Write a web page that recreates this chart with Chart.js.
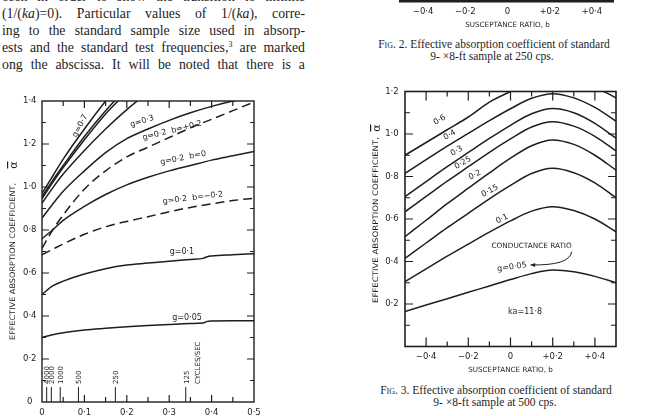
<!DOCTYPE html>
<html>
<head>
<meta charset="utf-8">
<script src="https://cdn.jsdelivr.net/npm/chart.js@4.4.1/dist/chart.umd.min.js"></script>
<style>
  html, body { margin: 0; padding: 0; background: #fff; }
  body { width: 649px; height: 416px; position: relative; overflow: hidden;
         font-family: 'Liberation Serif', 'DejaVu Serif', serif; color: #1e1e1e; }
  canvas { position: absolute; }
  .body { position: absolute; left: 2px; top: -10.7px; width: 303px; font-size: 13.8px; line-height: 16.9px; }
  .body div { height: 16.9px; text-align: justify; text-align-last: justify; }
  .body sup { font-size: 8px; line-height: 0; vertical-align: 5px; }
  .cap { position: absolute; width: 300px; text-align: center; font-size: 11.5px; line-height: 12px; white-space: nowrap; }
  .sc { font-variant: small-caps; }
</style>
</head>
<body>
<div class="body">
  <div>osen in order to show the transition to infinite</div>
  <div>(1/(<i>ka</i>)=0). Particular values of 1/(<i>ka</i>), corre-</div>
  <div>ing to the standard sample size used in absorp-</div>
  <div>ests and the standard test frequencies,<sup>3</sup> are marked</div>
  <div>ong the abscissa. It will be noted that there is a</div>
</div>

<canvas id="fig2" width="309" height="100" style="left:340px; top:-70px; width:309px; height:100px"></canvas>
<div class="cap" style="left:344px; top:38px"><span class="sc">Fig.</span> 2. Effective absorption coefficient of standard</div>
<div class="cap" style="left:342px; top:50px">9- ×8-ft sample at 250 cps.</div>

<canvas id="fig1" width="300" height="326" style="left:0px; top:90px; width:300px; height:326px"></canvas>
<canvas id="fig3" width="309" height="300" style="left:340px; top:80px; width:309px; height:300px"></canvas>

<div class="cap" style="left:346px; top:384px"><span class="sc">Fig.</span> 3. Effective absorption coefficient of standard</div>
<div class="cap" style="left:345px; top:396px">9- ×8-ft sample at 500 cps.</div>

<script>
// ---- Fig. 1: effective absorption vs 1/(ka) ----
const invKa = [0, 0.025, 0.05, 0.1, 0.15, 0.2, 0.25, 0.3, 0.35, 0.4, 0.45, 0.5];
const invKaFine = [0, 0.025, 0.05, 0.1, 0.15, 0.2, 0.25, 0.3, 0.35, 0.38, 0.39, 0.4, 0.45, 0.5];
const alphaHigh1 = [0.97, 1.05, 1.13, 1.27, 1.40, 1.52];
const alphaHigh2 = [0.955, 1.03, 1.10, 1.235, 1.355, 1.46];
const alphaHigh3 = [0.945, 1.02, 1.09, 1.22, 1.34, 1.44];
const alphaHigh4 = [0.925, 0.995, 1.06, 1.17, 1.27, 1.36, 1.44];
const alphaG03 = [0.855, 0.92, 0.98, 1.075, 1.16, 1.225, 1.27, 1.31, 1.345, 1.375, 1.40, 1.42];
const alphaG02Bplus = [0.715, 0.80, 0.87, 0.99, 1.075, 1.14, 1.185, 1.23, 1.275, 1.315, 1.355, 1.395];
const alphaG02B0 = [0.76, 0.80, 0.845, 0.91, 0.965, 1.01, 1.045, 1.075, 1.10, 1.125, 1.145, 1.165];
const alphaG02Bminus = [0.685, 0.71, 0.735, 0.78, 0.815, 0.84, 0.862, 0.885, 0.905, 0.922, 0.937, 0.948];
const alphaG01 = [0.50, 0.54, 0.562, 0.595, 0.62, 0.637, 0.646, 0.655, 0.663, 0.668, 0.676, 0.679, 0.685, 0.69];
const alphaG005 = [0.30, 0.313, 0.322, 0.335, 0.343, 0.35, 0.356, 0.361, 0.365, 0.367, 0.375, 0.377, 0.378, 0.378];
const fig1XTicks = [0, 0.1, 0.2, 0.3, 0.4, 0.5];
const fig1YTicks = [0, 0.2, 0.4, 0.6, 0.8, 1.0, 1.2, 1.4];
const freqLabels = ['4000', '2000', '1000', '500', '250', '125'];
const freqInvKa = [0.011, 0.022, 0.043, 0.086, 0.173, 0.339];

// ---- Fig. 3: effective absorption vs susceptance ratio ----
const susceptance = [-0.5, -0.4, -0.3, -0.2, -0.1, 0, 0.1, 0.2, 0.3, 0.4, 0.5];
const g060 = [0.90, 0.96, 1.02, 1.08, 1.15, 1.20, 1.245, 1.265, 1.25, 1.22, 1.17];
const g040 = [0.815, 0.879, 0.943, 1.003, 1.063, 1.119, 1.168, 1.19, 1.17, 1.125, 1.06];
const g030 = [0.705, 0.776, 0.846, 0.913, 0.979, 1.041, 1.095, 1.12, 1.10, 1.05, 0.98];
const g025 = [0.634, 0.706, 0.778, 0.846, 0.914, 0.977, 1.033, 1.058, 1.037, 0.989, 0.92];
const g020 = [0.517, 0.594, 0.672, 0.745, 0.817, 0.886, 0.945, 0.972, 0.951, 0.90, 0.83];
const g015 = [0.415, 0.487, 0.559, 0.627, 0.695, 0.758, 0.814, 0.839, 0.818, 0.77, 0.70];
const g010 = [0.305, 0.365, 0.425, 0.482, 0.538, 0.591, 0.637, 0.658, 0.64, 0.60, 0.54];
const g005 = [0.165, 0.195, 0.225, 0.255, 0.285, 0.315, 0.343, 0.36, 0.352, 0.33, 0.30];
const fig3XTicks = [-0.4, -0.2, 0, 0.2, 0.4];
const fig3YTicks = [0.2, 0.4, 0.6, 0.8, 1.0, 1.2];
const fig2XTicks = [-0.4, -0.2, 0, 0.2, 0.4];

const ink = '#1e1e1e';
const sans = "'DejaVu Sans', 'Liberation Sans', sans-serif";
const tickFont = { family: sans, size: 8.5 };

function dot(v, signed) {
    if (Math.abs(v) < 1e-9) return '0';
    const s = Math.abs(v).toFixed(1).replace('.', '·');
    if (v < 0) return '−' + s;
    return signed ? '+' + s : s;
}

function pts(xs, ys) {
    return ys.map((y, i) => ({ x: xs[i], y: y }));
}

function curve(xs, ys, dashed) {
    return {
        data: pts(xs, ys),
        borderColor: ink,
        borderWidth: 1.5,
        borderDash: dashed ? [9, 5] : [],
        pointRadius: 0,
        cubicInterpolationMode: 'monotone',
        fill: false,
    };
}

// frame, inside ticks, labels drawn on the paper
const decor = {
    id: 'decor',
    afterDraw(chart, args, o) {
        const { ctx, chartArea: a } = chart;
        const xs = chart.scales.x, ys = chart.scales.y;
        ctx.save();
        ctx.strokeStyle = ink;
        ctx.fillStyle = ink;

        if (o.frame) {
            ctx.lineWidth = o.frame;
            ctx.strokeRect(a.left, a.top, a.right - a.left, a.bottom - a.top);
        }
        if (o.base) {
            ctx.lineWidth = o.base;
            ctx.beginPath();
            ctx.moveTo(a.left - 3, a.bottom);
            ctx.lineTo(a.right + 1, a.bottom);
            ctx.stroke();
        }

        const marks = (scale, minor, major, lens) => {
            const n = Math.round((scale.max - scale.min) / minor);
            const out = [];
            for (let i = 1; i < n; i++) {
                const v = scale.min + i * minor;
                const q = v / major;
                out.push([scale.getPixelForValue(v), Math.abs(q - Math.round(q)) < 1e-6 ? lens[0] : lens[1]]);
            }
            return out;
        };
        ctx.lineWidth = 1.2;
        if (o.xTicks) {
            ctx.beginPath();
            for (const [p, l] of marks(xs, o.xTicks[0], o.xTicks[1], o.xTicks[2])) {
                ctx.moveTo(p, a.bottom); ctx.lineTo(p, a.bottom - l);
                ctx.moveTo(p, a.top); ctx.lineTo(p, a.top + l);
            }
            ctx.stroke();
        }
        if (o.yTicks) {
            ctx.beginPath();
            for (const [p, l] of marks(ys, o.yTicks[0], o.yTicks[1], o.yTicks[2])) {
                ctx.moveTo(a.left, p); ctx.lineTo(a.left + l, p);
                ctx.moveTo(a.right, p); ctx.lineTo(a.right - l, p);
            }
            ctx.stroke();
        }

        // frequency marks along the abscissa
        if (o.freq) {
            const f = o.freq;
            ctx.lineWidth = 1;
            ctx.beginPath();
            f.x.forEach(v => {
                const p = xs.getPixelForValue(v);
                ctx.moveTo(p, ys.getPixelForValue(0));
                ctx.lineTo(p, ys.getPixelForValue(f.top));
            });
            ctx.stroke();
            ctx.font = '7px ' + sans;
            ctx.textAlign = 'left';
            ctx.textBaseline = 'middle';
            const label = (t, v) => {
                ctx.save();
                ctx.translate(xs.getPixelForValue(v) + 1, ys.getPixelForValue(f.label));
                ctx.rotate(-Math.PI / 2);
                ctx.fillText(t, 0, 0);
                ctx.restore();
            };
            f.labels.forEach((t, i) => label(t, f.x[i]));
            label(f.unit, f.unitX);
        }

        // curve labels
        for (const n of o.notes || []) {
            ctx.save();
            ctx.translate(xs.getPixelForValue(n.x), ys.getPixelForValue(n.y));
            ctx.rotate((n.rot || 0) * Math.PI / 180);
            ctx.font = (n.size || 8) + 'px ' + sans;
            ctx.textAlign = 'center';
            ctx.textBaseline = 'middle';
            ctx.fillText(n.t, 0, 0);
            ctx.restore();
        }

        if (o.arrow) {
            const P = p => [xs.getPixelForValue(p[0]), ys.getPixelForValue(p[1])];
            const [x0, y0] = P(o.arrow.from), [cx, cy] = P(o.arrow.ctrl), [x1, y1] = P(o.arrow.to);
            ctx.lineWidth = 1;
            ctx.beginPath();
            ctx.moveTo(x0, y0);
            ctx.quadraticCurveTo(cx, cy, x1, y1);
            ctx.stroke();
            const ang = Math.atan2(y1 - cy, x1 - cx);
            ctx.beginPath();
            ctx.moveTo(x1, y1);
            ctx.lineTo(x1 - 5 * Math.cos(ang - 0.4), y1 - 5 * Math.sin(ang - 0.4));
            ctx.lineTo(x1 - 5 * Math.cos(ang + 0.4), y1 - 5 * Math.sin(ang + 0.4));
            ctx.closePath();
            ctx.fill();
        }

        // rotated ordinate title with alpha-bar
        if (o.ytitle) {
            const t = o.ytitle;
            ctx.save();
            ctx.translate(a.left + t.dx, a.top + t.from);
            ctx.rotate(-Math.PI / 2);
            ctx.font = '7.5px ' + sans;
            ctx.textAlign = 'left';
            ctx.textBaseline = 'middle';
            const w = ctx.measureText(t.text).width;
            ctx.scale((t.from - t.to) / w, 1);
            ctx.fillText(t.text, 0, 0);
            ctx.restore();

            ctx.save();
            ctx.translate(a.left + t.dx, a.top + t.alpha);
            ctx.rotate(-Math.PI / 2);
            ctx.font = '11px ' + sans;
            ctx.textAlign = 'center';
            ctx.textBaseline = 'alphabetic';
            ctx.fillText('α', 0, 3.5);
            ctx.fillRect(-3.5, -6, 7, 1.2);
            ctx.restore();
        }
        ctx.restore();
    },
};
Chart.register(decor);

const baseOptions = {
    responsive: false,
    animation: false,
    events: [],
    plugins: { legend: { display: false }, tooltip: { enabled: false } },
};

function xAxis(min, max, ticks, height, padding, signed, titleText, titlePad) {
    return {
        type: 'linear', min: min, max: max,
        afterBuildTicks: s => { s.ticks = ticks.map(v => ({ value: v })); },
        afterFit: s => { s.height = height; },
        grid: { display: false, drawTicks: false },
        border: { display: false },
        ticks: { padding: padding, font: tickFont, color: ink, maxRotation: 0, autoSkip: false,
                 callback: v => dot(v, signed) },
        title: titleText ? { display: true, text: titleText, color: ink,
                             font: { family: sans, size: 7.2 }, padding: { top: 0, bottom: titlePad } }
                         : { display: false },
    };
}

function yAxis(min, max, ticks, width, padding) {
    return {
        type: 'linear', min: min, max: max,
        afterBuildTicks: s => { s.ticks = ticks.map(v => ({ value: v })); },
        afterFit: s => { s.width = width; },
        grid: { display: false, drawTicks: false },
        border: { display: false },
        ticks: { padding: padding, font: tickFont, color: ink, crossAlign: 'center', autoSkip: false,
                 callback: v => dot(v) },
    };
}

// Fig. 1
const fig1 = new Chart(document.getElementById('fig1').getContext('2d'), {
    type: 'line',
    data: {
        datasets: [
            curve(invKa, alphaHigh1),
            curve(invKa, alphaHigh2),
            curve(invKa, alphaHigh3),
            curve(invKa, alphaHigh4),
            curve(invKa, alphaG03),
            curve(invKa, alphaG02Bplus, true),
            curve(invKa, alphaG02B0),
            curve(invKa, alphaG02Bminus, true),
            curve(invKaFine, alphaG01),
            curve(invKaFine, alphaG005),
        ],
    },
    options: {
        ...baseOptions,
        layout: { padding: { left: 0, right: 46, top: 11, bottom: 0 } },
        scales: {
            x: xAxis(0, 0.5, fig1XTicks, 14, 5.5, false),
            y: yAxis(0, 1.4, fig1YTicks, 42, 5.5),
        },
        plugins: {
            ...baseOptions.plugins,
            decor: {
                frame: 1.4,
                xTicks: [0.05, 0.1, [7, 5]],
                yTicks: [0.1, 0.2, [7, 4]],
                freq: { x: freqInvKa, labels: freqLabels, top: 0.07, label: 0.084,
                        unit: 'CYCLES/SEC', unitX: 0.365 },
                notes: [
                    { t: 'g=0·7', x: 0.09, y: 1.284, rot: -62 },
                    { t: 'g=0·3', x: 0.236, y: 1.305, rot: -17 },
                    { t: 'g=0·2  b=+0·2', x: 0.307, y: 1.262, rot: -14 },
                    { t: 'g=0·2  b=0', x: 0.333, y: 1.135, rot: -11 },
                    { t: 'g=0·2  b=−0·2', x: 0.356, y: 0.949, rot: -7 },
                    { t: 'g=0·1', x: 0.33, y: 0.698, rot: 0 },
                    { t: 'g=0·05', x: 0.342, y: 0.391, rot: 0 },
                ],
                ytitle: { text: 'EFFECTIVE ABSORPTION COEFFICIENT,', dx: -29, from: 239, to: 82, alpha: 64 },
            },
        },
    },
});

// Fig. 3
const fig3 = new Chart(document.getElementById('fig3').getContext('2d'), {
    type: 'line',
    data: {
        datasets: [
            curve(susceptance, g060),
            curve(susceptance, g040),
            curve(susceptance, g030),
            curve(susceptance, g025),
            curve(susceptance, g020),
            curve(susceptance, g015),
            curve(susceptance, g010),
            curve(susceptance, g005),
        ],
    },
    options: {
        ...baseOptions,
        layout: { padding: { left: 0, right: 33, top: 11.5, bottom: 0 } },
        scales: {
            x: xAxis(-0.5, 0.5, fig3XTicks, 33.5, 5, true, 'SUSCEPTANCE RATIO, b', 5.7),
            y: yAxis(0, 1.2, fig3YTicks, 65, 6.3),
        },
        plugins: {
            ...baseOptions.plugins,
            decor: {
                frame: 1.6,
                xTicks: [0.1, 0.2, [9, 5]],
                yTicks: [0.1, 0.2, [8, 5]],
                notes: [
                    { t: '0·6', x: -0.336, y: 1.066, rot: -30 },
                    { t: '0·4', x: -0.288, y: 0.995, rot: -30 },
                    { t: '0·3', x: -0.255, y: 0.92, rot: -30 },
                    { t: '0·25', x: -0.226, y: 0.864, rot: -30 },
                    { t: '0·2', x: -0.169, y: 0.807, rot: -28 },
                    { t: '0·15', x: -0.098, y: 0.732, rot: -28 },
                    { t: '0·1', x: -0.04, y: 0.60, rot: -25 },
                    { t: 'CONDUCTANCE RATIO', x: 0.10, y: 0.473, rot: 0, size: 7.3 },
                    { t: 'g=0·05', x: 0.007, y: 0.374, rot: -8 },
                    { t: 'ka=11·8', x: 0.069, y: 0.162, rot: 0 },
                ],
                arrow: { from: [0.29, 0.446], ctrl: [0.28, 0.38], to: [0.095, 0.384] },
                ytitle: { text: 'EFFECTIVE ABSORPTION COEFFICIENT,', dx: -29, from: 211.5, to: 45.5, alpha: 36.5 },
            },
        },
    },
});

// Fig. 2 (only its lower axis shows at the top of the page)
const fig2 = new Chart(document.getElementById('fig2').getContext('2d'), {
    type: 'line',
    data: { datasets: [] },
    options: {
        ...baseOptions,
        layout: { padding: { left: 62, right: 36, top: 0, bottom: 0 } },
        scales: {
            x: xAxis(-0.5, 0.5, fig2XTicks, 29, 5.6, true, 'SUSCEPTANCE RATIO, b', 0.9),
            y: { display: false, min: 0, max: 1 },
        },
        plugins: {
            ...baseOptions.plugins,
            decor: { base: 3 },
        },
    },
});
</script>
</body>
</html>
